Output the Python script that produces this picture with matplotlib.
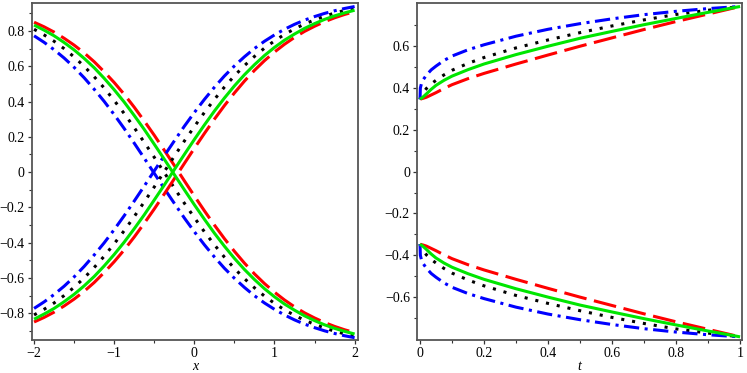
import matplotlib
matplotlib.use("Agg")
import matplotlib.pyplot as plt
from matplotlib.ticker import MultipleLocator, FixedLocator

plt.rcParams['font.family'] = ['Liberation Serif', 'DejaVu Serif']
plt.rcParams['axes.unicode_minus'] = True

# ---------------- left panel data (x) ----------------
x_vals = [-2.0, -1.875, -1.75, -1.625, -1.5, -1.375, -1.25, -1.125, -1.0,
          -0.875, -0.75, -0.625, -0.5, -0.375, -0.25, -0.125, 0.0,
          0.125, 0.25, 0.375, 0.5, 0.625, 0.75, 0.875, 1.0,
          1.125, 1.25, 1.375, 1.5, 1.625, 1.75, 1.875, 2.0]

red_dec = [0.850, 0.824, 0.794, 0.759, 0.720, 0.676, 0.626, 0.569, 0.508,
           0.441, 0.368, 0.290, 0.209, 0.124, 0.038, -0.049, -0.135,
           -0.219, -0.300, -0.377, -0.449, -0.516, -0.577, -0.632, -0.681,
           -0.725, -0.764, -0.798, -0.827, -0.853, -0.875, -0.894, -0.910]
green_dec = [0.834, 0.805, 0.773, 0.735, 0.693, 0.645, 0.592, 0.532, 0.467,
             0.397, 0.321, 0.242, 0.158, 0.073, -0.014, -0.100, -0.185,
             -0.267, -0.346, -0.420, -0.489, -0.552, -0.609, -0.661, -0.707,
             -0.748, -0.783, -0.815, -0.842, -0.866, -0.886, -0.903, -0.918]
black_dec = [0.810, 0.778, 0.742, 0.700, 0.653, 0.600, 0.541, 0.477, 0.406,
             0.332, 0.252, 0.169, 0.084, -0.003, -0.090, -0.176, -0.258,
             -0.338, -0.412, -0.482, -0.546, -0.604, -0.656, -0.703, -0.744,
             -0.781, -0.812, -0.840, -0.863, -0.884, -0.902, -0.917, -0.930]
blue_dec = [0.773, 0.736, 0.694, 0.647, 0.594, 0.535, 0.470, 0.401, 0.326,
            0.247, 0.164, 0.079, -0.007, -0.093, -0.177, -0.260, -0.338,
            -0.412, -0.481, -0.545, -0.602, -0.654, -0.701, -0.742, -0.778,
            -0.810, -0.838, -0.862, -0.882, -0.900, -0.915, -0.928, -0.939]

red_inc = [-0.850, -0.824, -0.794, -0.759, -0.720, -0.676, -0.626, -0.569, -0.508,
           -0.441, -0.368, -0.290, -0.209, -0.124, -0.038, 0.049, 0.135,
           0.219, 0.300, 0.377, 0.449, 0.516, 0.577, 0.632, 0.681,
           0.725, 0.764, 0.798, 0.827, 0.853, 0.875, 0.894, 0.910]
green_inc = [-0.834, -0.805, -0.773, -0.735, -0.693, -0.645, -0.592, -0.532, -0.467,
             -0.397, -0.321, -0.242, -0.158, -0.073, 0.014, 0.100, 0.185,
             0.267, 0.346, 0.420, 0.489, 0.552, 0.609, 0.661, 0.707,
             0.748, 0.783, 0.815, 0.842, 0.866, 0.886, 0.903, 0.918]
black_inc = [-0.810, -0.778, -0.742, -0.700, -0.653, -0.600, -0.541, -0.477, -0.406,
             -0.332, -0.252, -0.169, -0.084, 0.003, 0.090, 0.176, 0.258,
             0.338, 0.412, 0.482, 0.546, 0.604, 0.656, 0.703, 0.744,
             0.781, 0.812, 0.840, 0.863, 0.884, 0.902, 0.917, 0.930]
blue_inc = [-0.773, -0.736, -0.694, -0.647, -0.594, -0.535, -0.470, -0.401, -0.326,
            -0.247, -0.164, -0.079, 0.007, 0.093, 0.177, 0.260, 0.338,
            0.412, 0.481, 0.545, 0.602, 0.654, 0.701, 0.742, 0.778,
            0.810, 0.838, 0.862, 0.882, 0.900, 0.915, 0.928, 0.939]

# ---------------- right panel data (t) ----------------
t_vals = [0.0, 0.001, 0.005, 0.01, 0.02, 0.035, 0.05, 0.075, 0.1, 0.15, 0.2,
          0.3, 0.4, 0.5, 0.6, 0.7, 0.8, 0.9, 1.0]

blue_up = [0.346, 0.400, 0.425, 0.440, 0.462, 0.487, 0.505, 0.532, 0.553, 0.583, 0.607,
           0.648, 0.681, 0.708, 0.731, 0.751, 0.767, 0.780, 0.790]
black_up = [0.346, 0.352, 0.365, 0.378, 0.398, 0.420, 0.437, 0.463, 0.485, 0.518, 0.546,
            0.592, 0.630, 0.665, 0.697, 0.726, 0.752, 0.772, 0.790]
green_up = [0.346, 0.348, 0.352, 0.358, 0.372, 0.394, 0.413, 0.437, 0.457, 0.488, 0.515,
            0.560, 0.600, 0.638, 0.671, 0.703, 0.733, 0.762, 0.790]
red_up = [0.346, 0.347, 0.349, 0.351, 0.356, 0.367, 0.378, 0.398, 0.416, 0.445, 0.470,
          0.515, 0.558, 0.600, 0.640, 0.680, 0.718, 0.754, 0.790]

blue_lo = [-0.346, -0.400, -0.425, -0.440, -0.462, -0.487, -0.505, -0.532, -0.553, -0.583, -0.607,
           -0.648, -0.681, -0.708, -0.731, -0.751, -0.767, -0.780, -0.790]
black_lo = [-0.346, -0.352, -0.365, -0.378, -0.398, -0.420, -0.437, -0.463, -0.485, -0.518, -0.546,
            -0.592, -0.630, -0.665, -0.697, -0.726, -0.752, -0.772, -0.790]
green_lo = [-0.346, -0.348, -0.352, -0.358, -0.372, -0.394, -0.413, -0.437, -0.457, -0.488, -0.515,
            -0.560, -0.600, -0.638, -0.671, -0.703, -0.733, -0.762, -0.790]
red_lo = [-0.346, -0.347, -0.349, -0.351, -0.356, -0.367, -0.378, -0.398, -0.416, -0.445, -0.470,
          -0.515, -0.558, -0.600, -0.640, -0.680, -0.718, -0.754, -0.790]

left_yticks = [-0.8, -0.6, -0.4, -0.2, 0.0, 0.2, 0.4, 0.6, 0.8]
right_yticks = [-0.6, -0.4, -0.2, 0.0, 0.2, 0.4, 0.6]
right_yminor = [-0.7, -0.5, -0.3, -0.1, 0.1, 0.3, 0.5, 0.7]

# ---------------- styles ----------------
RED = '#ff0000'
GREEN = '#00e600'
BLACK = '#000000'
BLUE = '#0000ff'
LW = 2.2

def red_line(ax, x, y):
    ax.plot(x, y, color=RED, lw=LW, dashes=(7.5, 2.5), zorder=3)

def green_line(ax, x, y):
    ax.plot(x, y, color=GREEN, lw=LW, solid_capstyle='butt', zorder=4)

def black_line(ax, x, y):
    ax.plot(x, y, color=BLACK, lw=LW, dashes=(1.0, 2.6), zorder=3)

def blue_line(ax, x, y):
    ax.plot(x, y, color=BLUE, lw=LW, dashes=(5.0, 1.8, 1.0, 1.8), zorder=3)

fig = plt.figure(figsize=(7.47, 3.73), dpi=100)
ax1 = fig.add_axes([0.0424, 0.0885, 0.4366, 0.9025])
ax2 = fig.add_axes([0.558, 0.0885, 0.4353, 0.9025])

for f, yv in ((red_line, red_dec), (black_line, black_dec), (blue_line, blue_dec), (green_line, green_dec)):
    f(ax1, x_vals, yv)
for f, yv in ((red_line, red_inc), (black_line, black_inc), (blue_line, blue_inc), (green_line, green_inc)):
    f(ax1, x_vals, yv)

for f, yv in ((red_line, red_up), (black_line, black_up), (blue_line, blue_up), (green_line, green_up)):
    f(ax2, t_vals, yv)
for f, yv in ((red_line, red_lo), (black_line, black_lo), (blue_line, blue_lo), (green_line, green_lo)):
    f(ax2, t_vals, yv)

ax1.set_xlim(-2.03, 2.04)
ax1.set_ylim(-0.952, 0.957)
ax1.xaxis.set_major_locator(MultipleLocator(1))
ax1.xaxis.set_minor_locator(MultipleLocator(0.5))
ax1.yaxis.set_major_locator(FixedLocator(left_yticks))
ax1.yaxis.set_minor_locator(MultipleLocator(0.1))

ax2.set_xlim(-0.01, 1.006)
ax2.set_ylim(-0.805, 0.805)
ax2.xaxis.set_major_locator(MultipleLocator(0.2))
ax2.xaxis.set_minor_locator(MultipleLocator(0.1))
ax2.yaxis.set_major_locator(FixedLocator(right_yticks))
ax2.yaxis.set_minor_locator(FixedLocator(right_yminor))

def fmt(v, pos):
    if abs(v) < 1e-9:
        return '0'
    s = ('%.1f' % v) if abs(v - round(v)) > 1e-9 else ('%d' % round(v))
    return s.replace('-', '\u2212')

for ax, lab in ((ax1, 'x'), (ax2, 't')):
    ax.xaxis.set_major_formatter(plt.FuncFormatter(fmt))
    ax.yaxis.set_major_formatter(plt.FuncFormatter(fmt))
    for sp in ax.spines.values():
        sp.set_color('#555555')
        sp.set_linewidth(1.3)
    ax.tick_params(which='major', direction='out', length=3, width=0.9, colors='#333333',
                   labelsize=10, labelcolor='black', pad=2)
    ax.tick_params(which='minor', direction='out', length=2, width=0.8, colors='#333333')
    ax.set_xlabel(lab, fontsize=10, style='italic', labelpad=0)

fig.savefig('out.png', dpi=100)
